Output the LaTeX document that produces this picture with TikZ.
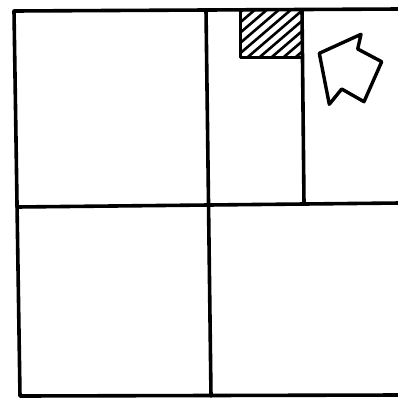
\documentclass[tikz,border=0pt]{standalone}
\begin{document}
\begin{tikzpicture}[x=1pt,y=-1pt,
  wall/.style={line width=3.6pt,line cap=round,line join=round,black},
  hatch/.style={line width=2.6pt,black},
  arrowshape/.style={line width=3.4pt,line join=round,black,fill=white}]
\useasboundingbox (0,0) rectangle (398,399);
% coordinates (pixels, y down)
\coordinate (tl) at (14,11);
\coordinate (tr) at (400,9);
\coordinate (bl) at (20,396);
\coordinate (br) at (400,395);
\coordinate (ml) at (17,207);
\coordinate (mr) at (400,203);
\coordinate (vt) at (206,10);
\coordinate (vb) at (211,396);
\coordinate (v2t) at (302,10);
\coordinate (v2b) at (304,204);
% outer walls
\draw[wall] (tr) -- (tl) -- (bl) -- (br);
\draw[wall] (ml) -- (mr);
\draw[wall] (vt) -- (vb);
\draw[wall] (v2t) -- (v2b);
% hatched box
\coordinate (h1) at (240,10);
\coordinate (h2) at (302,57);
\begin{scope}
  \clip (h1) rectangle (h2);
  \foreach \i in {-70,-58,...,70} {
    \draw[hatch] (240+\i,62) -- (310+\i,2);
  }
\end{scope}
\draw[wall,line width=3pt] (240,10) -- (240,57) -- (302,57);
% arrow
\draw[arrowshape] (319.3,53.3) -- (361,34.3) -- (357.7,49) -- (381.7,61.7)
  -- (364,101.7) -- (341.7,89) -- (329.3,104.3) -- cycle;
\end{tikzpicture}
\end{document}
